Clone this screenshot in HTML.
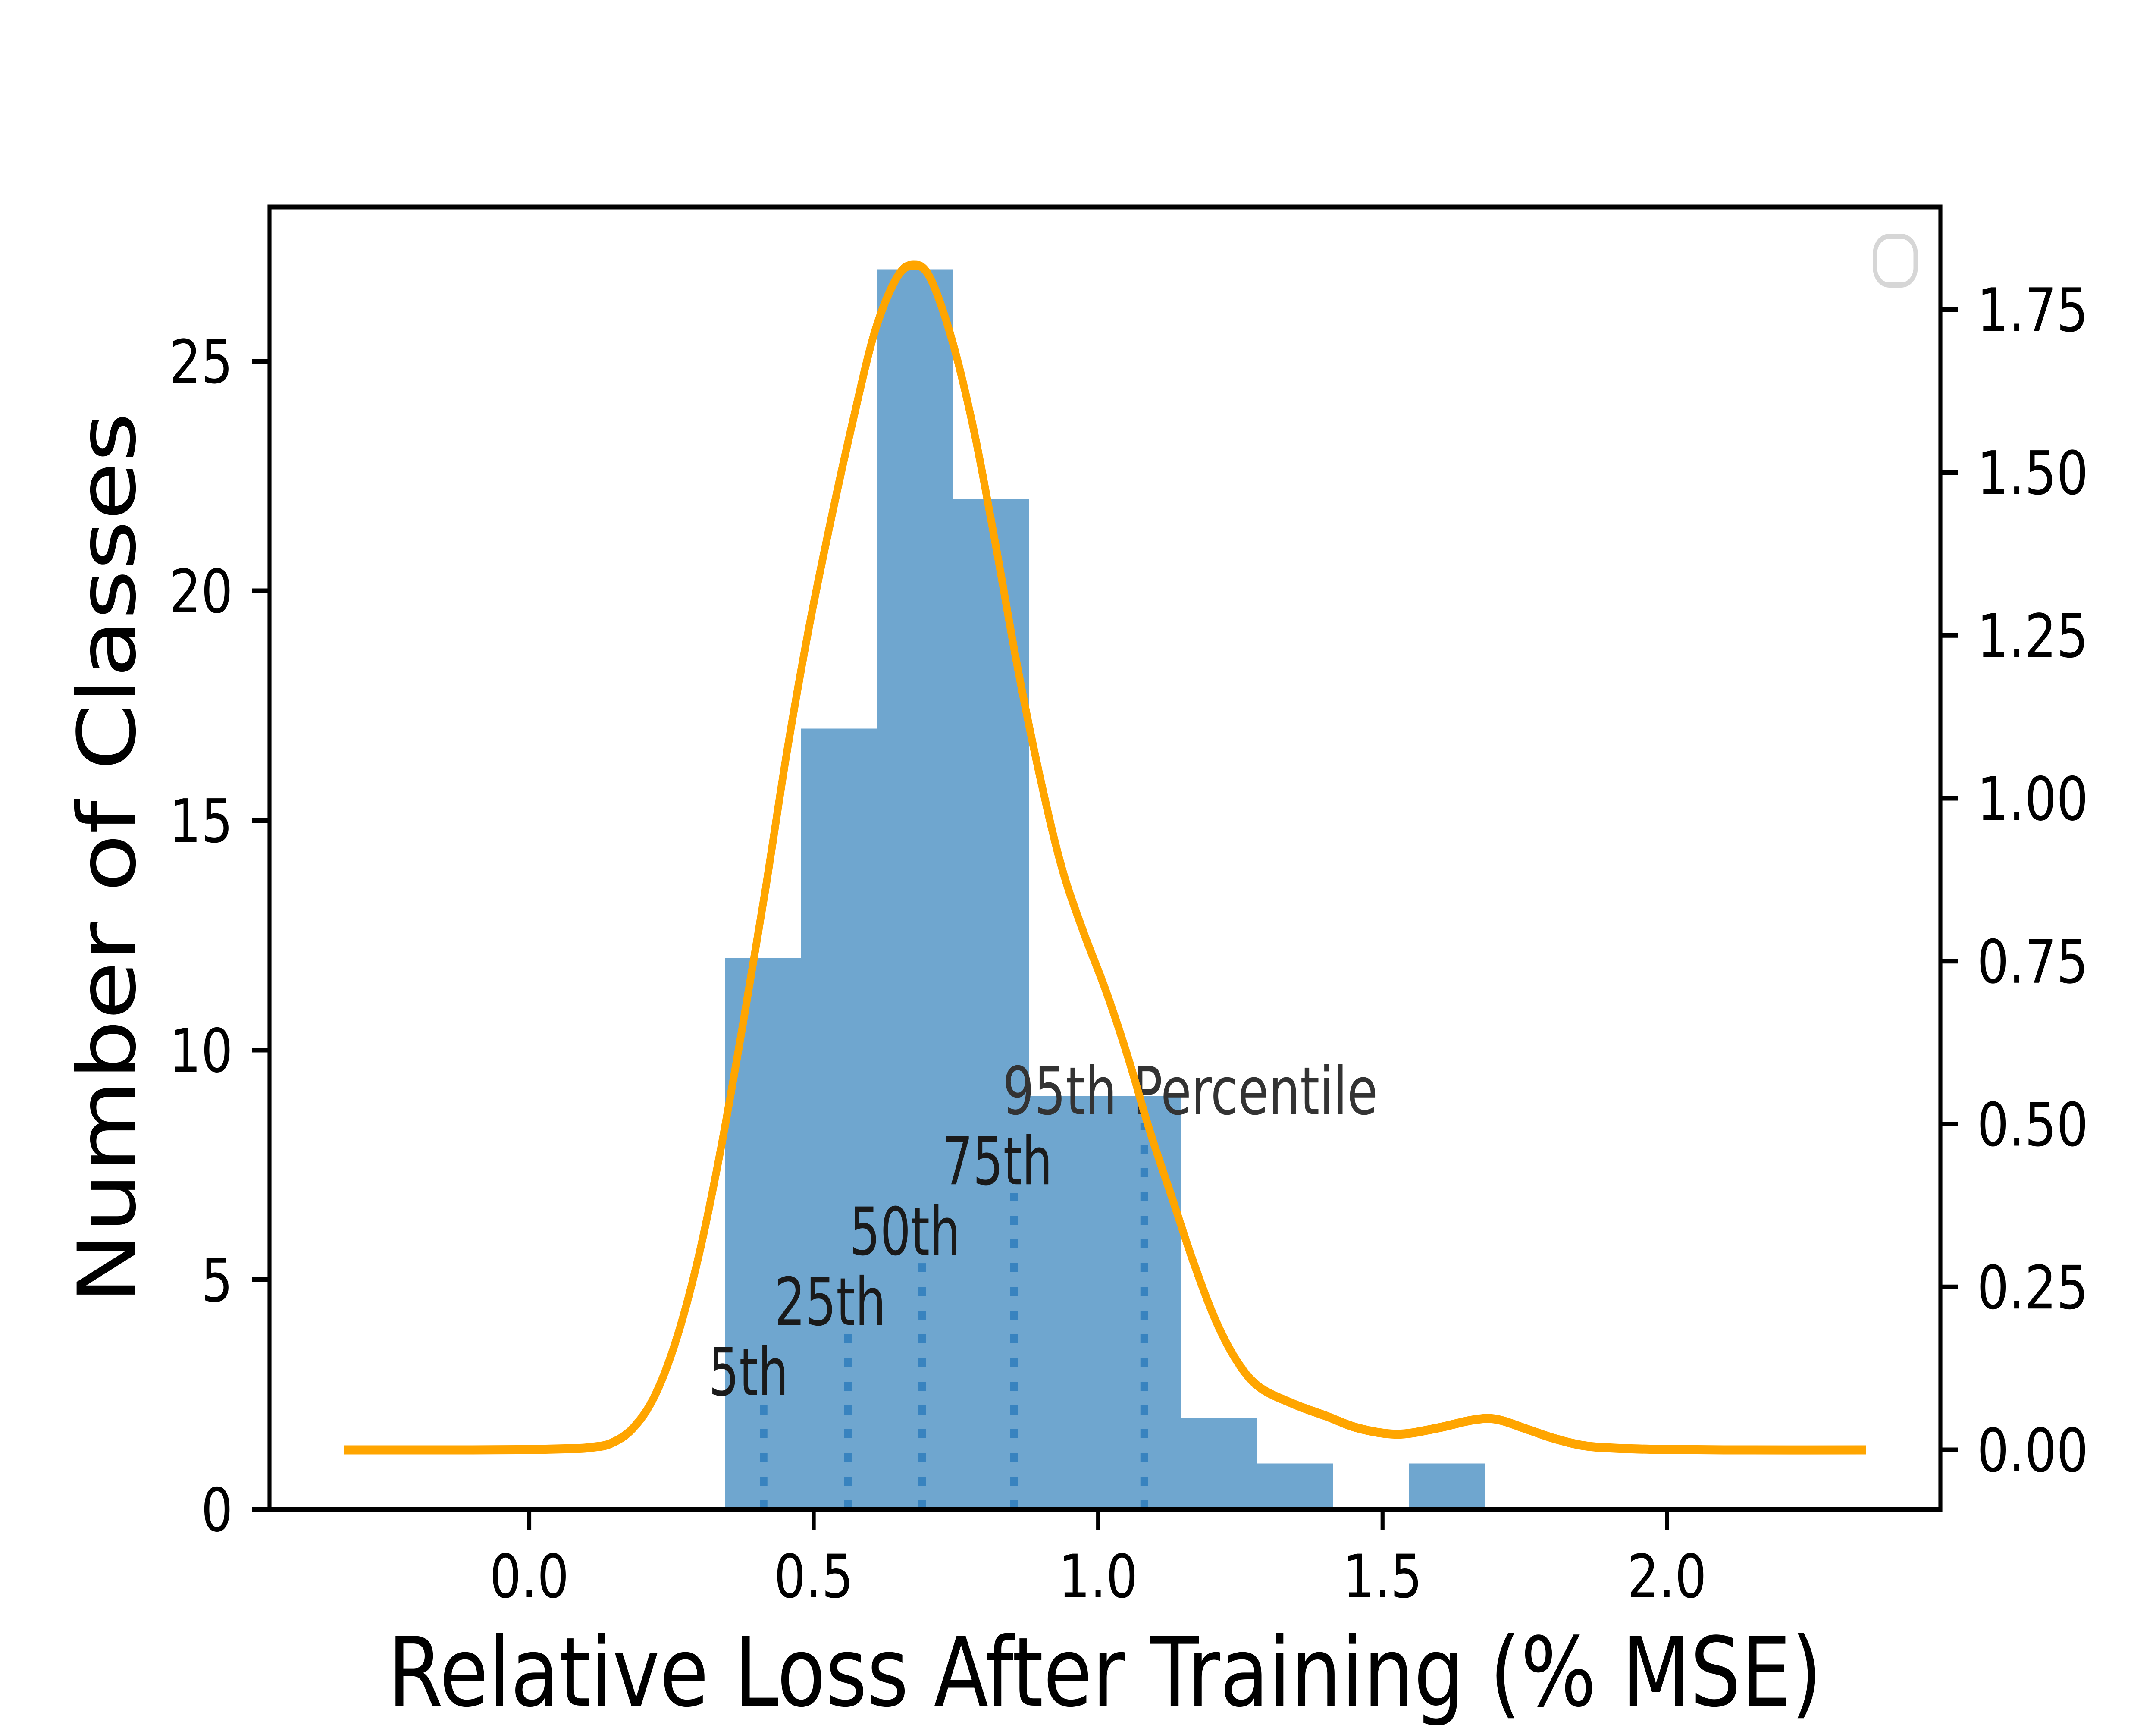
<!DOCTYPE html>
<html><head><meta charset="utf-8"><style>html,body{margin:0;padding:0;background:#fff;width:100%;height:100%;overflow:hidden}svg{display:block;width:100vw;height:100vh}</style></head>
<body>
<svg id="chart" xmlns="http://www.w3.org/2000/svg" viewBox="0 0 6000 4000" preserveAspectRatio="none" font-family="'DejaVu Sans','Liberation Sans',sans-serif">
<rect x="0" y="0" width="6000" height="4000" fill="#fff"/>
<g id="bars"></g>
<g id="pct"></g>
<g id="kde"></g>
<g id="axes"></g>
<rect x="5218" y="548" width="113" height="113" rx="40" fill="#fff" stroke="#d6d6d6" stroke-width="12"/>
<text x="0" y="0" transform="translate(375,1990) rotate(-90)" text-anchor="middle" font-size="222" textLength="2067" lengthAdjust="spacingAndGlyphs">Number of Classes</text>
<text x="3075" y="3955" text-anchor="middle" font-size="222" textLength="3992" lengthAdjust="spacingAndGlyphs">Relative Loss After Training (% MSE)</text>
</svg>
<script>
const binStart = 0.344;
const binWidth = 0.1336;
const counts = [12, 17, 27, 22, 9, 9, 2, 1, 0, 1];
const pctNames = ["5th", "25th", "50th", "75th", "95th Percentile"];
const pctValues = [0.412, 0.560, 0.6906, 0.852, 1.081];
const pctHeights = [2.3, 3.83, 5.36, 6.89, 8.42];
const kdeX = [-0.326, -0.1, 0.0, 0.08, 0.11, 0.1434, 0.182, 0.2206, 0.2594, 0.2982, 0.3369, 0.3755, 0.4144, 0.4529, 0.4915, 0.530, 0.5686, 0.6077, 0.6462, 0.6753, 0.7044, 0.7429, 0.7814, 0.820, 0.859, 0.8977, 0.936, 0.975, 1.0139, 1.0524, 1.091, 1.1295, 1.168, 1.207, 1.2457, 1.284, 1.342, 1.4005, 1.4586, 1.526, 1.594, 1.6595, 1.70, 1.753, 1.80, 1.85, 1.90, 1.97, 2.1, 2.35];
const kdeY = [0, 0, 0.0005, 0.002, 0.004, 0.0099, 0.033, 0.083, 0.172, 0.299, 0.463, 0.653, 0.856, 1.071, 1.261, 1.426, 1.578, 1.717, 1.799, 1.818, 1.799, 1.704, 1.565, 1.388, 1.198, 1.033, 0.894, 0.793, 0.704, 0.603, 0.489, 0.388, 0.287, 0.198, 0.134, 0.096, 0.071, 0.052, 0.033, 0.024, 0.033, 0.046, 0.047, 0.032, 0.018, 0.007, 0.003, 0.001, 0, 0];
const xTicks = [0.0, 0.5, 1.0, 1.5, 2.0];
const xTickLabels = ["0.0", "0.5", "1.0", "1.5", "2.0"];
const yTicks = [0, 5, 10, 15, 20, 25];
const yTickLabels = ["0", "5", "10", "15", "20", "25"];
const y2Ticks = [0, 0.25, 0.5, 0.75, 1.0, 1.25, 1.5, 1.75];
const y2TickLabels = ["0.00", "0.25", "0.50", "0.75", "1.00", "1.25", "1.50", "1.75"];

const L = 750, R = 5400, T = 480, B = 3500;
const X = v => 1473 + v * 1583;
const Y = v => B - v * 106.5;
const Y2 = v => 3362 - v * 1511;
const NS = "http://www.w3.org/2000/svg";
function mk(tag, attrs, parent) {
  const e = document.createElementNS(NS, tag);
  for (const k in attrs) e.setAttribute(k, attrs[k]);
  parent.appendChild(e);
  return e;
}
const bars = document.getElementById('bars');
counts.forEach((c, i) => {
  if (c <= 0) return;
  const x0 = X(binStart + i * binWidth), x1 = X(binStart + (i + 1) * binWidth);
  const r = mk('rect', {x: x0, y: Y(c), width: x1 - x0 + 0.5, height: Y(0) - Y(c), fill: '#6fa6cf'}, bars);
  
  
});
const pct = document.getElementById('pct');
const labelOffsets = [-153, -204, -202, -199, -394];
const labelWidths = [222, 310, 308, 306, 1044];
pctValues.forEach((v, i) => {
  const ln = mk('line', {x1: X(v), x2: X(v), y1: Y(0), y2: Y(pctHeights[i]), stroke: '#2b7bba', 'stroke-opacity': 0.8, 'stroke-width': 21, 'stroke-dasharray': '21 34'}, pct);
  
  
  const t = mk('text', {x: X(v) + labelOffsets[i], y: Y(pctHeights[i]) - 20, 'font-size': 153, fill: i === 4 ? '#333' : '#1a1a1a', textLength: labelWidths[i], lengthAdjust: 'spacingAndGlyphs'}, pct);
  t.textContent = pctNames[i];
  
  
});
const kde = document.getElementById('kde');
const pts = kdeX.map((x, i) => [X(x), Y2(kdeY[i])]);
let d = 'M' + pts[0][0] + ',' + pts[0][1];
for (let i = 0; i < pts.length - 1; i++) {
  const p0 = pts[Math.max(0, i - 1)], p1 = pts[i], p2 = pts[i + 1], p3 = pts[Math.min(pts.length - 1, i + 2)];
  const c1 = [p1[0] + (p2[0] - p0[0]) / 6, p1[1] + (p2[1] - p0[1]) / 6];
  const c2 = [p2[0] - (p3[0] - p1[0]) / 6, p2[1] - (p3[1] - p1[1]) / 6];
  d += ' C' + c1[0].toFixed(1) + ',' + c1[1].toFixed(1) + ' ' + c2[0].toFixed(1) + ',' + c2[1].toFixed(1) + ' ' + p2[0].toFixed(1) + ',' + p2[1].toFixed(1);
}
const kp = mk('path', {d: d, fill: 'none', stroke: '#ffa500', 'stroke-width': 21, 'stroke-linejoin': 'round'}, kde);



const axes = document.getElementById('axes');
const frame = mk('rect', {x: L, y: T, width: R - L, height: B - T, fill: 'none', stroke: '#000', 'stroke-width': 11}, axes);


xTicks.forEach((v, i) => {
  const tk = mk('line', {x1: X(v), x2: X(v), y1: B, y2: B + 48, stroke: '#000', 'stroke-width': 11}, axes);
  
  
  const t = mk('text', {x: X(v), y: 3704, 'text-anchor': 'middle', 'font-size': 139}, axes);
  t.textContent = xTickLabels[i];
  
  
});
yTicks.forEach((v, i) => {
  const tk = mk('line', {x1: L - 48, x2: L, y1: Y(v), y2: Y(v), stroke: '#000', 'stroke-width': 11}, axes);
  
  
  const t = mk('text', {x: 648, y: Y(v) + 50, 'text-anchor': 'end', 'font-size': 139}, axes);
  t.textContent = yTickLabels[i];
  
  
});
y2Ticks.forEach((v, i) => {
  const tk = mk('line', {x1: R, x2: R + 48, y1: Y2(v), y2: Y2(v), stroke: '#000', 'stroke-width': 11}, axes);
  
  
  const t = mk('text', {x: 5502, y: Y2(v) + 50, 'text-anchor': 'start', 'font-size': 139}, axes);
  t.textContent = y2TickLabels[i];
  
  
});
</script>
</body></html>
